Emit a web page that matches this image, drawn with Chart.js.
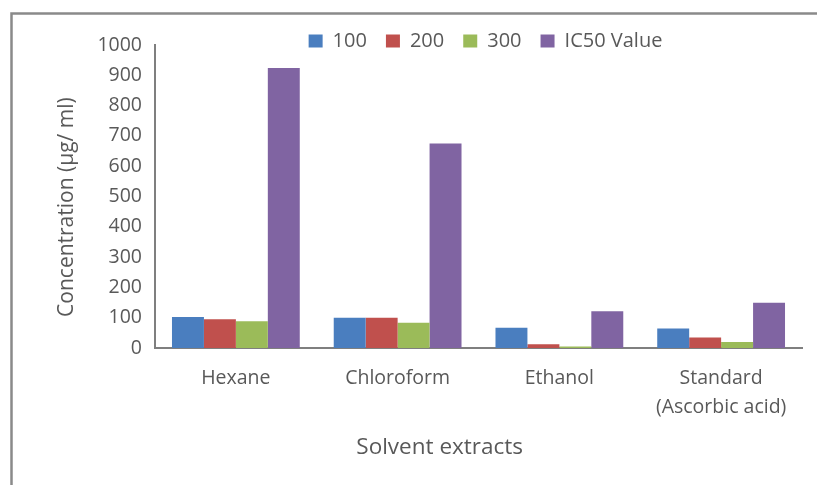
<!DOCTYPE html>
<html>
<head>
<meta charset="utf-8">
<script src="https://cdn.jsdelivr.net/npm/chart.js@4.4.1/dist/chart.umd.min.js"></script>
<style>
  html, body { margin: 0; padding: 0; background: #ffffff; overflow: hidden; }
  canvas { display: block; }
</style>
</head>
<body>
<canvas id="chart" width="817" height="485"></canvas>
<script>
// Solvent extracts on the category axis
const categories = ['Hexane', 'Chloroform', 'Ethanol', ['Standard', '(Ascorbic acid)']];

// Series values, concentration in µg/ml
const seriesNames = ['100', '200', '300', 'IC50 Value'];
const conc100 = [102, 100, 67, 64];
const conc200 = [95, 100, 12, 35];
const conc300 = [88, 83, 5, 20];
const ic50Value = [924, 675, 121, 149];

// Value axis tick labels
const yTickValues = [0, 100, 200, 300, 400, 500, 600, 700, 800, 900, 1000];

// Axis captions
const xAxisTitle = 'Solvent extracts';
const yAxisTitle = 'Concentration (µg/ ml)';

const seriesColors = ['#4a7ebf', '#c0504d', '#9bbb59', '#8064a2'];
const seriesValues = [conc100, conc200, conc300, ic50Value];

const textGray = '#595959';
const axisGray = '#7f7f7f';
const fontFamily = '"Open Sans", "Liberation Sans", sans-serif';

// White background and the outer frame around the chart
const framePlugin = {
  id: 'frame',
  beforeDraw(chart) {
    const ctx = chart.ctx;
    ctx.save();
    ctx.fillStyle = '#ffffff';
    ctx.fillRect(0, 0, chart.width, chart.height);
    ctx.strokeStyle = '#8a8a8a';
    ctx.lineWidth = 2.5;
    ctx.beginPath();
    ctx.moveTo(11.5, chart.height);
    ctx.lineTo(11.5, 13.5);
    ctx.lineTo(chart.width, 13.5);
    ctx.stroke();
    ctx.restore();
  }
};

// Legend sits just above the plot; widen its clip box so the labels are not cut
const legendPlacement = {
  id: 'legendPlacement',
  afterLayout(chart) {
    const lg = chart.legend;
    if (!lg) return;
    lg.bottom += 20;
    lg.height += 20;
    lg.left += 7;
    lg.right += 7;
  }
};

// Axis captions drawn beside the plot area
const axisCaptions = {
  id: 'axisCaptions',
  afterDraw(chart) {
    const ctx = chart.ctx;
    const area = chart.chartArea;
    ctx.save();
    ctx.fillStyle = textGray;
    ctx.textAlign = 'center';
    ctx.textBaseline = 'middle';
    ctx.font = '22.5px ' + fontFamily;
    ctx.fillText(xAxisTitle, area.left + (area.right - area.left) * 0.44, area.bottom + 100);
    ctx.font = '21px ' + fontFamily;
    ctx.translate(67, area.top + (area.bottom - area.top) * 0.535);
    ctx.rotate(-Math.PI / 2);
    ctx.fillText(yAxisTitle, 0, 0);
    ctx.restore();
  }
};

new Chart(document.getElementById('chart'), {
  type: 'bar',
  data: {
    labels: categories,
    datasets: seriesNames.map((name, i) => ({
      label: name,
      data: seriesValues[i],
      backgroundColor: seriesColors[i],
      borderWidth: 0,
      categoryPercentage: 0.79,
      barPercentage: 1.0
    }))
  },
  options: {
    responsive: false,
    animation: false,
    devicePixelRatio: 1,
    layout: { padding: { left: 50, right: 15, top: 12, bottom: 22 } },
    plugins: {
      tooltip: { enabled: false },
      legend: {
        position: 'top',
        fullSize: false,
        maxHeight: 33,
        labels: {
          color: textGray,
          font: { family: fontFamily, size: 20 },
          boxWidth: 14,
          boxHeight: 13,
          padding: 19
        }
      }
    },
    scales: {
      x: {
        grid: { display: false, drawTicks: false },
        border: { display: true, color: axisGray, width: 2 },
        ticks: {
          color: textGray,
          font: { family: fontFamily, size: 19.5, lineHeight: 1.5 },
          padding: 16,
          maxRotation: 0,
          autoSkip: false
        },
        afterFit(scale) { scale.height = 115; }
      },
      y: {
        min: 0,
        max: 1000,
        grid: { display: false, drawTicks: false },
        border: { display: true, color: axisGray, width: 2 },
        afterBuildTicks(scale) { scale.ticks = yTickValues.map(v => ({ value: v })); },
        ticks: {
          color: textGray,
          font: { family: fontFamily, size: 19.5 },
          padding: 13,
          callback: (v) => String(v)
        },
        afterFit(scale) { scale.width = 105; }
      }
    }
  },
  plugins: [framePlugin, legendPlacement, axisCaptions]
});
</script>
</body>
</html>
